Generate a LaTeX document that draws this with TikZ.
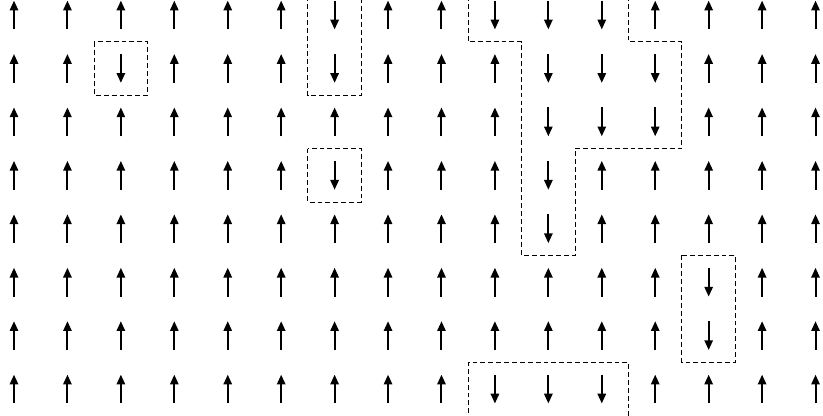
\documentclass[tikz,border=0pt]{standalone}
\usepackage{xcolor}
\usepackage{tikz}
\usetikzlibrary{arrows.meta}
\definecolor{ink}{HTML}{000000}
\tikzset{
  spin/.style={-{Triangle[length=5.2pt,width=4.4pt]},line width=1.05pt,color=ink},
  wall/.style={draw=ink,line width=0.5pt,dash pattern=on 2.6pt off 1.6pt},
}
% flipped spins, column/row
\foreach \c in {2/1,6/0,6/1,6/3,9/0,10/0,11/0,10/1,11/1,12/1,10/2,11/2,12/2,10/3,10/4,13/5,13/6,9/7,10/7,11/7}{%
  \expandafter\gdef\csname dn\c\endcsname{}}

\begin{document}
\begin{tikzpicture}
    \clip (-0.262,0.281) rectangle (15.140,-7.496);
    \foreach \i in {0,...,15}{
      \foreach \j in {0,...,7}{
        \ifcsname dn\i/\j\endcsname
          \draw[spin] (\i,-\j+0.27) -- ++(0,-0.54);
        \else
          \draw[spin] (\i,-\j-0.27) -- ++(0,0.54);
        \fi
      }
    }
    % domain walls
    \draw[wall] (1.5,-0.5) rectangle (2.5,-1.5);
    \draw[wall] (5.5,0.5) -- (5.5,-1.5) -- (6.5,-1.5) -- (6.5,0.5);
    \draw[wall] (5.5,-2.5) rectangle (6.5,-3.5);
    \draw[wall] (8.5,0.5) -- (8.5,-0.5) -- (9.5,-0.5) -- (9.5,-4.5) -- (10.5,-4.5) -- (10.5,-2.5) -- (12.5,-2.5) -- (12.5,-0.5) -- (11.5,-0.5) -- (11.5,0.5);
    \draw[wall] (12.5,-4.5) rectangle (13.5,-6.5);
    \draw[wall] (8.5,-7.6) -- (8.5,-6.5) -- (11.5,-6.5) -- (11.5,-7.6);
\end{tikzpicture}
\end{document}
